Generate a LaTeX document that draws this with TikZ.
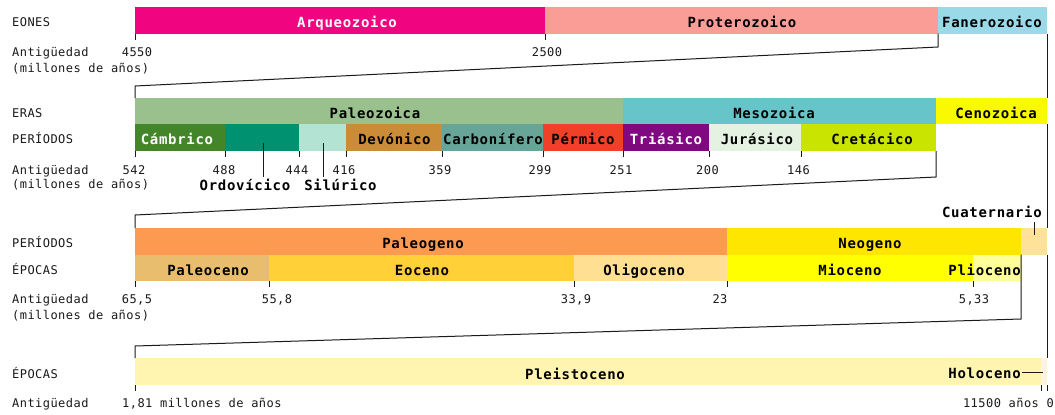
\documentclass[tikz,border=0pt]{standalone}
\usepackage{fontspec}
\newfontfamily\rfont[LetterSpace=3.75]{DejaVu Sans Mono}
\newfontfamily\bfontfam[LetterSpace=5]{DejaVu Sans Mono}
\definecolor{txt}{HTML}{1A1A1A}
\definecolor{lc}{HTML}{1A1A1A}
\definecolor{carq}{HTML}{F0047F}
\definecolor{cprot}{HTML}{F99D96}
\definecolor{cfan}{HTML}{9AD9E8}
\definecolor{cpaleoz}{HTML}{99C08D}
\definecolor{cmesoz}{HTML}{67C5CA}
\definecolor{ccenoz}{HTML}{F9F900}
\definecolor{ccamb}{HTML}{43862A}
\definecolor{cordo}{HTML}{009270}
\definecolor{csilu}{HTML}{B3E3D3}
\definecolor{cdevo}{HTML}{CB8C37}
\definecolor{ccarb}{HTML}{67A599}
\definecolor{cperm}{HTML}{F04028}
\definecolor{ctria}{HTML}{800880}
\definecolor{cjura}{HTML}{E3F2E1}
\definecolor{ccret}{HTML}{C8E400}
\definecolor{cpaleog}{HTML}{FD9A52}
\definecolor{cneog}{HTML}{FFE600}
\definecolor{ccuat}{HTML}{FFE29A}
\definecolor{cpaleoc}{HTML}{E8BE6E}
\definecolor{ceoc}{HTML}{FFD038}
\definecolor{colig}{HTML}{FFDF92}
\definecolor{cmioc}{HTML}{FFFF00}
\definecolor{cplioc}{HTML}{FFFF99}
\definecolor{cpleist}{HTML}{FFF5B0}
\definecolor{cholo}{HTML}{FEF2E0}
\newcommand{\gbar}[5]{\fill[#1] (#2,#3) rectangle (#4,#5);}
\begin{document}
\begin{tikzpicture}[x=1pt,y=-1pt,
  lab/.style={font=\rfont\fontsize{12}{13}\selectfont, text=txt, inner sep=0pt, text height=8.75pt, text depth=0pt},
  blab/.style={font=\bfontfam\bfseries\fontsize{14}{15}\selectfont, text=black, inner sep=0pt, text height=10.2pt, text depth=0pt},
  wlab/.style={blab, text=white},
  ln/.style={draw=lc, line width=1pt},
  side/.style={lab, anchor=west}
]
\useasboundingbox[fill=white] (0,0) rectangle (1055,415);

% ---------- Row 1: Eones
\gbar{carq}{135}{7}{545}{33.5}
\gbar{cprot}{545}{7}{938}{33.5}
\gbar{cfan}{938}{7}{1047}{33.5}
\node[wlab] (arq) at (347,22) {Arqueozoico};
\node[blab] (prot) at (742,22) {Proterozoico};
\node[blab] (fan) at (992,22) {Fanerozoico};
\node[side] (l1a) at (12,22.5) {EONES};
\node[side] (l1b) at (12,52.5) {Antigüedad};
\node[side] (l1c) at (12,68) {(millones de años)};
\node[lab] (t4550) at (137,52.5) {4550};
\node[lab] (t2500) at (547,52.5) {2500};

% ---------- Row 2: Eras / Periodos
\gbar{cpaleoz}{135}{98}{623}{124}
\gbar{cmesoz}{623}{98}{936}{124}
\gbar{ccenoz}{936}{98}{1047}{124}
\gbar{ccamb}{135}{124}{225}{151}
\gbar{cordo}{225}{124}{299}{151}
\gbar{csilu}{299}{124}{346}{151}
\gbar{cdevo}{346}{124}{442}{151}
\gbar{ccarb}{442}{124}{543}{151}
\gbar{cperm}{543}{124}{623}{151}
\gbar{ctria}{623}{124}{709}{151}
\gbar{cjura}{709}{124}{801}{151}
\gbar{ccret}{801}{124}{936}{151}
\node[blab] (paleoz) at (375,113) {Paleozoica};
\node[blab] (mesoz) at (774,113) {Mesozoica};
\node[blab] (cenoz) at (996,113) {Cenozoica};
\node[wlab] (camb) at (177,139.5) {Cámbrico};
\node[blab] (devo) at (394.5,139.5) {Devónico};
\node[blab] (carb) at (493,139.5) {Carbonífero};
\node[blab] (perm) at (583,139.5) {Pérmico};
\node[wlab] (tria) at (666,139.5) {Triásico};
\node[blab] (jura) at (757,139.5) {Jurásico};
\node[blab] (cret) at (872,139.5) {Cretácico};
\node[blab] (ordo) at (245,185) {Ordovícico};
\node[blab] (silu) at (340.5,185) {Silúrico};
\node[side] (l2a) at (12,113.5) {ERAS};
\node[side] (l2b) at (12,139.5) {PERÍODOS};
\node[side] (l2c) at (12,170.5) {Antigüedad};
\node[side] (l2d) at (12,184) {(millones de años)};
\node[lab] (t542) at (134,170.5) {542};
\node[lab] (t488) at (224,170.5) {488};
\node[lab] (t444) at (297,170.5) {444};
\node[lab] (t416) at (344,170.5) {416};
\node[lab] (t359) at (440,170.5) {359};
\node[lab] (t299) at (540,170.5) {299};
\node[lab] (t251) at (621,170.5) {251};
\node[lab] (t200) at (707.5,170.5) {200};
\node[lab] (t146) at (798.5,170.5) {146};

% ---------- Row 3: Cenozoico
\gbar{cpaleog}{135}{228}{727}{254.5}
\gbar{cneog}{727}{228}{1021}{254.5}
\gbar{ccuat}{1021}{228}{1047}{254.5}
\gbar{cpaleoc}{135}{254.5}{269}{281}
\gbar{ceoc}{269}{254.5}{574}{281}
\gbar{colig}{574}{254.5}{727}{281}
\gbar{cmioc}{727}{254.5}{973}{281}
\gbar{cplioc}{973}{254.5}{1021}{281}
\node[blab] (paleog) at (423,243) {Paleogeno};
\node[blab] (neog) at (870,243) {Neogeno};
\node[blab, anchor=east] (cuat) at (1042,212) {Cuaternario};
\node[blab] (paleoc) at (208,270) {Paleoceno};
\node[blab] (eoc) at (422,270) {Eoceno};
\node[blab] (olig) at (644,270) {Oligoceno};
\node[blab] (mioc) at (850,270) {Mioceno};
\node[blab, anchor=east] (plioc) at (1021,270) {Plioceno};
\node[side] (l3a) at (12,243) {PERÍODOS};
\node[side] (l3b) at (12,270) {ÉPOCAS};
\node[side] (l3c) at (12,299.5) {Antigüedad};
\node[side] (l3d) at (12,315) {(millones de años)};
\node[lab] (t655) at (137,299.5) {65,5};
\node[lab] (t558) at (277,299.5) {55,8};
\node[lab] (t339) at (576,299.5) {33,9};
\node[lab] (t23) at (720,299.5) {23};
\node[lab] (t533) at (974,299.5) {5,33};

% ---------- Row 4: Cuaternario
\gbar{cpleist}{135}{358}{1041}{385}
\gbar{cholo}{1041}{358}{1047}{385}
\node[blab] (pleist) at (575,374) {Pleistoceno};
\node[blab, anchor=east] (holo) at (1021,373.5) {Holoceno};
\node[side] (l4a) at (12,374) {ÉPOCAS};
\node[side] (l4b) at (12,403) {Antigüedad};
\node[lab, anchor=west] (t181) at (122,403) {1,81 millones de años};
\node[lab, anchor=east] (t0) at (1054,403) {11500 años 0};

% ---------- Coordinates for connectors and ticks
\coordinate (a1) at (938,33.5); \coordinate (a2) at (938,47);
\coordinate (a3) at (135,86);   \coordinate (a4) at (135,98);
\coordinate (b1) at (936,151);  \coordinate (b2) at (936,177);
\coordinate (b3) at (135,215);  \coordinate (b4) at (135,228);
\coordinate (c1) at (1021,254.5); \coordinate (c2) at (1021,319);
\coordinate (c3) at (135,346);  \coordinate (c4) at (135,358);
\coordinate (r0) at (1047.5,33.5); \coordinate (r1) at (1047.5,98);
\coordinate (r2) at (1047.5,124);  \coordinate (r3) at (1047.5,228);
\coordinate (r4) at (1047.5,254.5); \coordinate (r5) at (1047.5,358);
\coordinate (o1) at (263,143); \coordinate (o2) at (263,177);
\coordinate (s1) at (323,143); \coordinate (s2) at (323,177);
\coordinate (q1) at (1034,222); \coordinate (q2) at (1034,235);
\coordinate (h1) at (1022,372.5); \coordinate (h2) at (1043,372.5);

\draw[ln] (a1) -- (a2) -- (a3) -- (a4);
\draw[ln] (b1) -- (b2) -- (b3) -- (b4);
\draw[ln] (c1) -- (c2) -- (c3) -- (c4);
\draw[ln] (r0) -- (r1);
\draw[ln] (r2) -- (r3);
\draw[ln] (r4) -- (r5);
\draw[ln] (o1) -- (o2);
\draw[ln] (s1) -- (s2);
\draw[ln] (q1) -- (q2);
\draw[ln] (h1) -- (h2);

% ticks
\foreach \x in {135,545} {\draw[ln] (\x,33.5) -- (\x,40);}
\foreach \x in {135,225,299,346,442,543,623,709,801} {\draw[ln] (\x,151) -- (\x,157);}
\foreach \x in {135,269,574,727,973} {\draw[ln] (\x,281) -- (\x,287);}
\foreach \x in {135,1041,1047.5} {\draw[ln] (\x,385) -- (\x,391);}
\end{tikzpicture}
\end{document}
